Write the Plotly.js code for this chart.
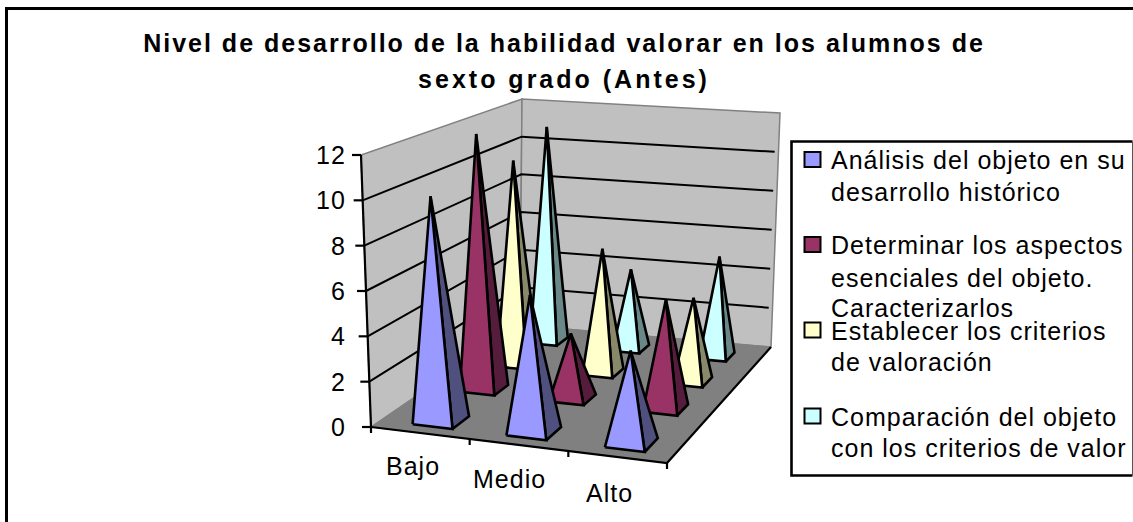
<!DOCTYPE html>
<html><head><meta charset="utf-8">
<script src="https://cdn.plot.ly/plotly-3.0.1.min.js"></script>
<style>
html,body{margin:0;padding:0;background:#fff;overflow:hidden}
.gtitle{letter-spacing:2px}
.annotation-text{letter-spacing:1px}
</style></head><body><div id="chart" style="width:1133px;height:522px"></div>
<script>
const categories = ["Bajo","Medio","Alto"];
const seriesNames = ["Análisis del objeto en su desarrollo histórico","Determinar los aspectos esenciales del objeto. Caracterizarlos","Establecer los criterios de valoración","Comparación del objeto con los criterios de valor"];
const analisis = [10,6,4];
const determinar = [12,3,5];
const establecer = [10,6,4];
const comparacion = [11,4,5];
const seriesValues = [analisis,determinar,establecer,comparacion];
const valueTicks = [0,2,4,6,8,10,12];
const titleText = "Nivel de desarrollo de la habilidad valorar en los alumnos de<br>sexto grado (Antes)";
const legendLines = [["Análisis del objeto en su","desarrollo histórico"],["Determinar los aspectos","esenciales del objeto.","Caracterizarlos"],["Establecer los criterios","de valoración"],["Comparación del objeto","con los criterios de valor"]];

// view geometry of the 3-D box (used only to project the values)
const fA=[371,427],fD=[667,463],fC=[771,347],fB=[520,325];
const tA=[361,155],tD=[664,178],tC=[780,113],tB=[522,99];
const zMax=12;
const catU=[.177,.497,.833], apexU=[.162,.492,.833];
const depth=[.125,.43,.67,.89], halfU=[.068,.062,.056,.052], halfW=[.06,.05,.045,.04];
const frontCol=["#9999FF","#993366","#FFFFCC","#CCFFFF"], sideCol=["#50507F","#561C3C","#88886B","#6B8888"];
const legendY=[[160,192],[245,278,308],[331,362],[417,448]], swatchY=[159.5,244.5,330,416];

function bil(a,d,c,b,u,w){const f=[a[0]+(d[0]-a[0])*u,a[1]+(d[1]-a[1])*u],k=[b[0]+(c[0]-b[0])*u,b[1]+(c[1]-b[1])*u];return [f[0]+(k[0]-f[0])*w,f[1]+(k[1]-f[1])*w];}
function P(u,w,z){const p=bil(fA,fD,fC,fB,u,w),t=bil(tA,tD,tC,tB,u,w),s=z/zMax;return [p[0]+(t[0]-p[0])*s,p[1]+(t[1]-p[1])*s];}
function poly(pts,fill,line,lw,name){return {type:'scatter',mode:lw?'lines':'none',x:pts.map(p=>p?p[0]:null),y:pts.map(p=>p?p[1]:null),fill:fill?'toself':'none',fillcolor:fill,line:{color:line||fill,width:lw||0,simplify:false},hoverinfo:'skip',showlegend:false,name:name||''};}

const traces=[];
traces.push(poly([P(0,0,0),P(0,1,0),P(0,1,zMax),P(0,0,zMax),P(0,0,0)],'#C0C0C0','#808080',1.5,'Pared izquierda'));
traces.push(poly([P(0,1,0),P(1,1,0),P(1,1,zMax),P(0,1,zMax),P(0,1,0)],'#C0C0C0','#808080',1.5,'Pared derecha'));
traces.push(poly([P(0,0,0),P(1,0,0),P(1,1,0),P(0,1,0),P(0,0,0)],'#808080','#808080',1,'Suelo'));
const grid=[];
valueTicks.filter(z=>z>0&&z<zMax).forEach(z=>{grid.push(P(0,0,z),P(0,1,z),P(.985,1,z),null);});
traces.push(poly(grid,null,'#000',2,'Rejilla'));
// axes
const axL=[P(0,0,0),P(0,0,zMax),null];
valueTicks.forEach(z=>{const p=P(0,0,z);axL.push([p[0]-9,p[1]],p,null);});
axL.push(P(0,0,0),P(1,0,0),P(1,1,0),null);
[0,1,2,3].forEach(i=>{const p=P(i/3,0,0);axL.push(p,[p[0],p[1]+6],null);});
traces.push(poly(axL,null,'#000',2.2,'Ejes'));
// pyramids, back row first
for(let s=3;s>=0;s--){
  const front=[],side=[];
  categories.forEach((c,i)=>{
    const u=catU[i],w=depth[s],v=seriesValues[s][i];
    const FL=P(u-halfU[s],w-halfW[s],0),FR=P(u+halfU[s],w-halfW[s],0),BR=P(u+halfU[s],w+halfW[s],0),T=P(apexU[i],w,v);
    side.push(FR,BR,T,FR,null);
    front.push(FL,FR,T,FL,null);
  });
  traces.push(poly(side,sideCol[s],'#000',2.6,seriesNames[s]));
  traces.push(poly(front,frontCol[s],'#000',2.6,seriesNames[s]));
}
const annotations=[];
const txt=(t,x,y,anchor)=>annotations.push({text:t,x,y,xref:'x',yref:'y',xanchor:anchor,yanchor:'middle',showarrow:false,font:{family:'Liberation Sans, Arial, sans-serif',size:25,color:'#000'}});
valueTicks.forEach(z=>txt(String(z),348,P(0,0,z)[1],'right'));
const catPos=[[413,466],[509,479],[609,493]];
categories.forEach((c,i)=>txt(c,catPos[i][0],catPos[i][1],'center'));
legendLines.forEach((ls,i)=>ls.forEach((l,j)=>txt(l,829,legendY[i][j],'left')));
const shapes=[
 {type:'rect',xref:'x',yref:'y',x0:6.5,x1:1145,y0:8.5,y1:540,line:{color:'#000',width:3},layer:'below'},
 {type:'path',xref:'x',yref:'y',path:'M1132.5,141.5 L791.5,141.5 L791.5,475.5 L1132.5,475.5',line:{color:'#000',width:2.6},layer:'below'},
 {type:'line',xref:'x',yref:'y',x0:1132.5,x1:1132.5,y0:141.5,y1:475.5,line:{color:'#555',width:1},layer:'below'}];
swatchY.forEach((y,i)=>shapes.push({type:'rect',xref:'x',yref:'y',x0:804.5,x1:820.5,y0:y-7.5,y1:y+7.5,fillcolor:frontCol[i],line:{color:'#000',width:2}}));
const layout={width:1133,height:522,margin:{l:0,r:0,t:0,b:0},paper_bgcolor:'#fff',plot_bgcolor:'#fff',showlegend:false,
 title:{text:titleText,x:564/1133,xanchor:'center',y:1-52/522,yref:'container',yanchor:'top',font:{family:'Liberation Sans, Arial, sans-serif',size:25,color:'#000',weight:'bold'}},
 xaxis:{range:[0,1133],visible:false,fixedrange:true},yaxis:{range:[522,0],visible:false,fixedrange:true},annotations,shapes};
Plotly.newPlot('chart',traces,layout,{displayModeBar:false,staticPlot:true}).then(()=>{
  const ln=document.querySelectorAll('.gtitle tspan.line');
  if(ln.length>1){ln[1].setAttribute('dy','36');ln[1].style.letterSpacing='3px';}
});
</script></body></html>
